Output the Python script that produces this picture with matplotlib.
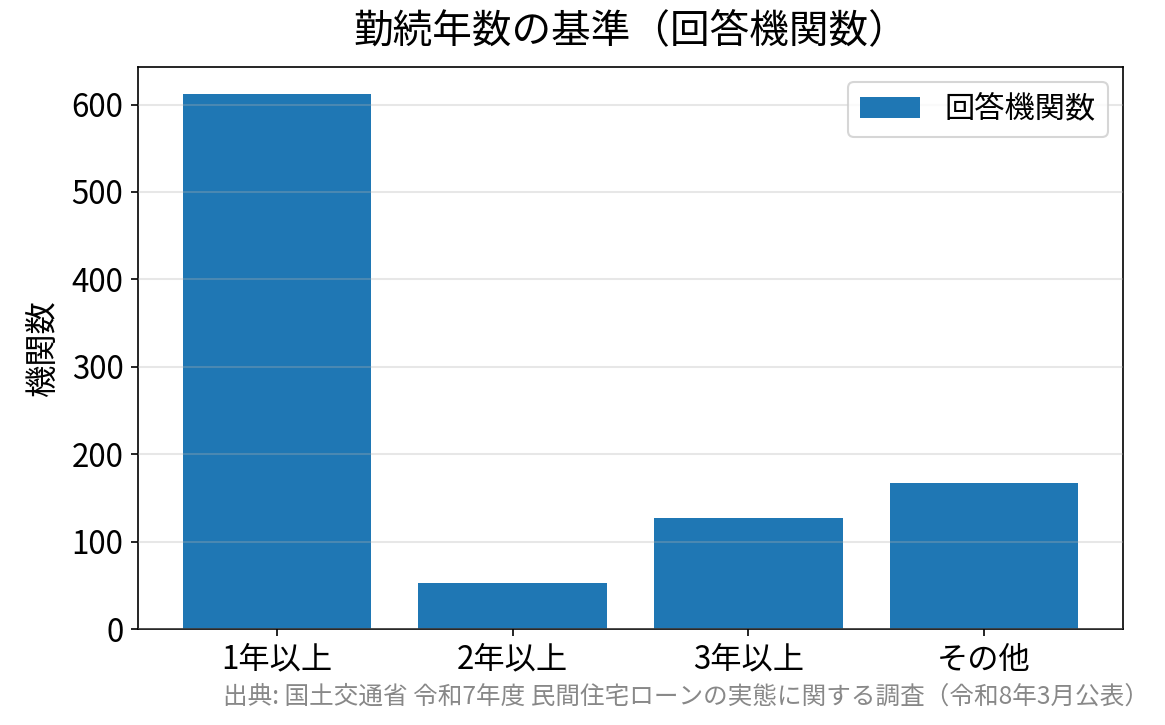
import matplotlib
matplotlib.use('Agg')
from matplotlib import pyplot as plt

plt.rcParams['font.family'] = ['Noto Sans CJK JP', 'DejaVu Sans']

categories = ['1年以上', '2年以上', '3年以上', 'その他']
counts = [612, 53, 127, 167]

title = '勤続年数の基準（回答機関数）'
ylabel = '機関数'
series_label = '回答機関数'
source = '出典: 国土交通省 令和7年度 民間住宅ローンの実態に関する調査（令和8年3月公表）'

fig = plt.figure(figsize=(1165 / 150, 725 / 150), dpi=150)
ax = fig.add_axes([138 / 1165, 1 - 629 / 725, (1123 - 138) / 1165, (629 - 67) / 725])

ax.bar(categories, counts, width=0.8, color='#1f77b4', label=series_label, zorder=2)
ax.set_ylim(0, 643)
ax.yaxis.grid(True, color='#b0b0b0', alpha=0.3, linewidth=1, zorder=3)
ax.set_axisbelow(False)
ax.tick_params(labelsize=15)
ax.set_ylabel(ylabel, fontsize=15.5, labelpad=6)
ax.set_title(title, fontsize=19, pad=12)
ax.legend(loc='upper right', fontsize=14.5)

fig.text(1149 / 1165, 1 - 697 / 725, source, ha='right', va='center', fontsize=11.8, color='#888888')

fig.savefig('out.png', dpi=150)
